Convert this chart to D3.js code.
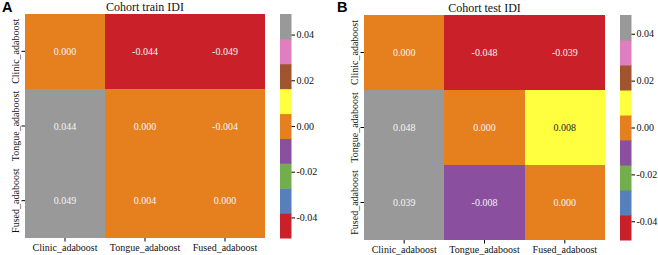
<!DOCTYPE html>
<html>
<head>
<meta charset="utf-8">
<script src="https://cdn.jsdelivr.net/npm/d3@7"></script>
<style>
  body { margin: 0; background: #fff; }
  #chart text { font-family: "Liberation Serif", "Times New Roman", "DejaVu Serif", serif !important; }
  #chart text.letter { font-family: "Liberation Sans", Arial, sans-serif !important; }
</style>
</head>
<body>
<svg id="chart" width="658" height="255"></svg>
<script>
// models compared (rows = reference model, cols = compared model)
var models = ["Clinic_adaboost", "Tongue_adaboost", "Fused_adaboost"];

var trainIDI = [
    [0.000, -0.044, -0.049],
    [0.044, 0.000, -0.004],
    [0.049, 0.004, 0.000]
];

var testIDI = [
    [0.000, -0.048, -0.039],
    [0.048, 0.000, 0.008],
    [0.039, -0.008, 0.000]
];

var cbarTicks = [-0.04, -0.02, 0.00, 0.02, 0.04];

// Set1 colormap as it shows in the figure
var set1 = ["#c9202a", "#5680bb", "#73ad4c", "#8a4f9f", "#e6801f",
            "#ffff40", "#a0552e", "#e07fbf", "#999999"];

var svg = d3.select("#chart");

drawPanel({label: "A", title: "Cohort train IDI", data: trainIDI,
    x0: 25, x1: 265, y0: 14, y1: 238, cbx: 280});
drawPanel({label: "B", title: "Cohort test IDI", data: testIDI,
    x0: 364, x1: 605, y0: 15, y1: 240, cbx: 620});

function drawPanel(p) {
    var g = svg.append("g");
    var flat = [];
    p.data.forEach(function(row, i) {
        row.forEach(function(v, j) { flat.push({row: i, col: j, value: v}); });
    });
    var vmax = d3.max(flat, d => Math.abs(d.value));

    var x = d3.scaleBand().domain(models).range([p.x0, p.x1]);
    var y = d3.scaleBand().domain(models).range([p.y0, p.y1]);
    var color = d3.scaleQuantize().domain([-vmax, vmax]).range(set1);

    g.selectAll("rect.cell")
        .data(flat)
        .join("rect")
        .attr("class", "cell")
        .attr("x", d => Math.round(x(models[d.col])))
        .attr("y", d => Math.round(y(models[d.row])))
        .attr("width", d => Math.round(x(models[d.col]) + x.bandwidth()) - Math.round(x(models[d.col])))
        .attr("height", d => Math.round(y(models[d.row]) + y.bandwidth()) - Math.round(y(models[d.row])))
        .attr("shape-rendering", "crispEdges")
        .attr("fill", d => color(d.value));

    g.selectAll("text.annot")
        .data(flat)
        .join("text")
        .attr("class", "annot")
        .attr("x", d => x(models[d.col]) + x.bandwidth() / 2)
        .attr("y", d => y(models[d.row]) + y.bandwidth() / 2)
        .attr("dy", "0.35em")
        .attr("text-anchor", "middle")
        .attr("font-size", 10)
        .attr("fill", d => color(d.value) == "#ffff40" ? "#262626" : "#f4f4f4")
        .text(d => d3.format(".3f")(d.value).replace("−", "-"));

    // x axis
    var xAxis = g.append("g")
        .attr("transform", "translate(0," + p.y1 + ")")
        .call(d3.axisBottom(x).tickSize(3.5).tickPadding(2));
    xAxis.select(".domain").remove();
    xAxis.selectAll("text").attr("font-size", 10).attr("fill", "#111");

    // y axis, labels rotated
    var yAxis = g.append("g")
        .attr("transform", "translate(" + p.x0 + ",0)")
        .call(d3.axisLeft(y).tickSize(3.5).tickPadding(2));
    yAxis.select(".domain").remove();
    yAxis.selectAll("text")
        .attr("font-size", 10).attr("fill", "#111")
        .attr("text-anchor", "middle")
        .attr("dy", 0)
        .attr("transform", "translate(-6,0) rotate(-90)")
        .attr("x", 0).attr("y", 0);

    // title
    g.append("text")
        .attr("x", (p.x0 + p.x1) / 2)
        .attr("y", p.y0 - 3)
        .attr("text-anchor", "middle")
        .attr("font-size", 12)
        .attr("fill", "#111")
        .text(p.title);

    // panel letter
    g.append("text")
        .attr("class", "letter")
        .attr("x", p.x0 - 23 + (p.label == "B" ? -4 : 0))
        .attr("y", 12)
        .attr("font-size", 14.5)
        .attr("font-weight", "bold")
        .attr("fill", "#000")
        .text(p.label);

    // colorbar
    var cy = d3.scaleLinear().domain([-vmax, vmax]).range([p.y1, p.y0]);
    var cbw = 11.5;
    g.selectAll("rect.cbar")
        .data(color.range())
        .join("rect")
        .attr("class", "cbar")
        .attr("x", p.cbx)
        .attr("y", c => cy(color.invertExtent(c)[1]))
        .attr("width", cbw)
        .attr("height", c => cy(color.invertExtent(c)[0]) - cy(color.invertExtent(c)[1]) + 0.5)
        .attr("fill", c => c);

    var cAxis = g.append("g")
        .attr("transform", "translate(" + (p.cbx + cbw) + ",0)")
        .call(d3.axisRight(cy).tickValues(cbarTicks).tickFormat(d3.format(".2f")).tickSize(3.5).tickPadding(1.5));
    cAxis.select(".domain").remove();
    cAxis.selectAll("text").attr("font-size", 10).attr("fill", "#111")
        .text(d => d3.format(".2f")(d).replace("−", "-"));
}
</script>
</body>
</html>
